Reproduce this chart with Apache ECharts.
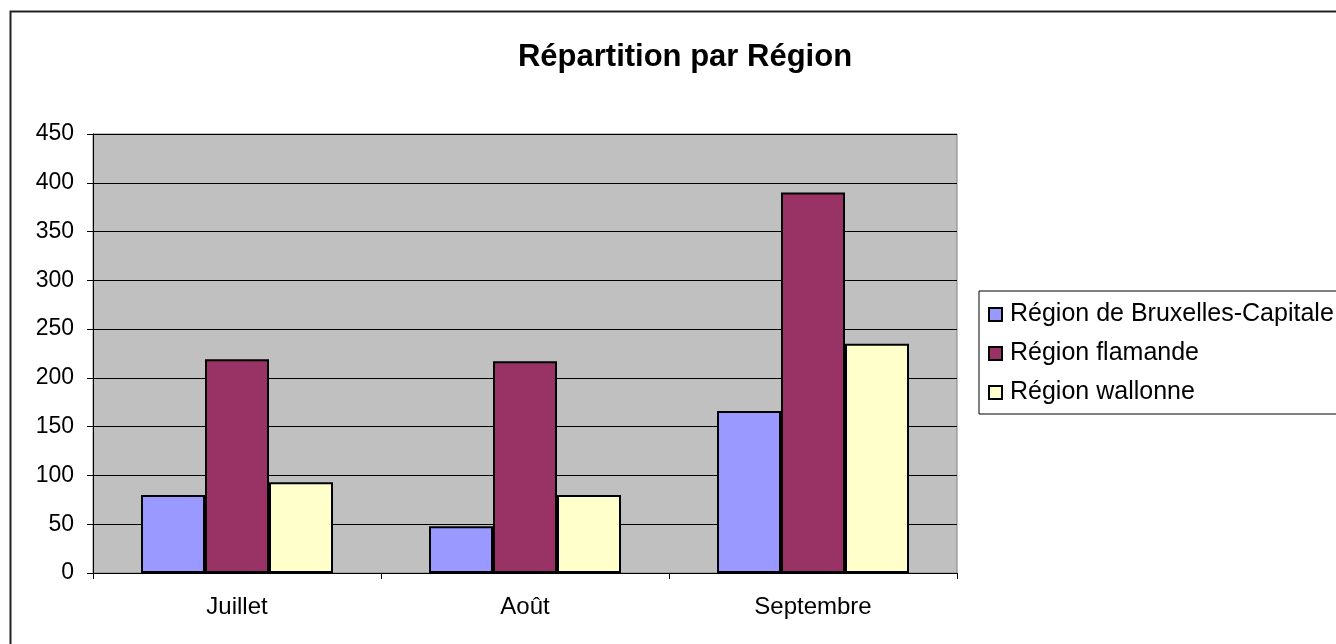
<!DOCTYPE html>
<html><head><meta charset="utf-8">
<script src="https://cdn.jsdelivr.net/npm/echarts@6/dist/echarts.min.js"></script>
<style>html,body{margin:0;padding:0;background:#fff}#c{width:1336px;height:644px}</style>
</head><body><div id="c"></div>
<script>
const categories = ['Juillet', 'Août', 'Septembre'];
const bruxelles = [80, 48, 166];
const flamande = [219, 217, 390];
const wallonne = [93, 80, 235];
const seriesNames = ['Région de Bruxelles-Capitale', 'Région flamande', 'Région wallonne'];
const colors = ['#9999FF', '#993366', '#FFFFCC'];
const FONT = '"Liberation Sans", Arial, sans-serif';

const chart = echarts.init(document.getElementById('c'));
const mk = (name, data, color) => ({
  name, type: 'bar', data, barWidth: 64, barGap: '0%',
  itemStyle: { color, borderColor: '#000', borderWidth: 2 }
});
chart.setOption({
  animation: false,
  backgroundColor: '#fff',
  textStyle: { fontFamily: FONT },
  graphic: [{
    type: 'rect', z: -10, silent: true,
    shape: { x: 10.5, y: 11.5, width: 1400, height: 700 },
    style: { fill: 'none', stroke: '#222', lineWidth: 2 }
  }],
  title: {
    text: 'Répartition par Région', left: 680, top: 37, textAlign: 'center',
    textStyle: { fontFamily: FONT, fontWeight: 'bold', fontSize: 31, color: '#000' }
  },
  legend: {
    orient: 'vertical', left: 979, top: 291,
    padding: [11, 60, 9, 9],
    borderColor: '#000', borderWidth: 1, backgroundColor: '#fff',
    icon: 'rect', itemWidth: 13, itemHeight: 13, itemGap: 14,
    textStyle: { fontFamily: FONT, fontSize: 25, lineHeight: 24, color: '#000', padding: [0, 0, 0, 3] },
    data: seriesNames
  },
  grid: {
    left: 93, right: 379, top: 134, bottom: 71,
    show: true, backgroundColor: '#C0C0C0', borderColor: '#808080', borderWidth: 1
  },
  xAxis: {
    type: 'category', data: categories,
    axisLine: { lineStyle: { color: '#000', width: 1 } },
    axisTick: { show: true, length: 6, alignWithLabel: false, lineStyle: { color: '#000' } },
    axisLabel: { fontFamily: FONT, fontSize: 24, color: '#000', margin: 22 }
  },
  yAxis: {
    type: 'value', min: 0, max: 450, interval: 50,
    axisLine: { show: true, lineStyle: { color: '#000', width: 1 } },
    axisTick: { show: true, length: 6, lineStyle: { color: '#000' } },
    axisLabel: { fontFamily: FONT, fontSize: 23, color: '#000', margin: 19 },
    splitLine: { show: true, lineStyle: { color: '#000', width: 1 } }
  },
  series: [
    mk(seriesNames[0], bruxelles, colors[0]),
    mk(seriesNames[1], flamande, colors[1]),
    mk(seriesNames[2], wallonne, colors[2])
  ]
});
</script></body></html>
